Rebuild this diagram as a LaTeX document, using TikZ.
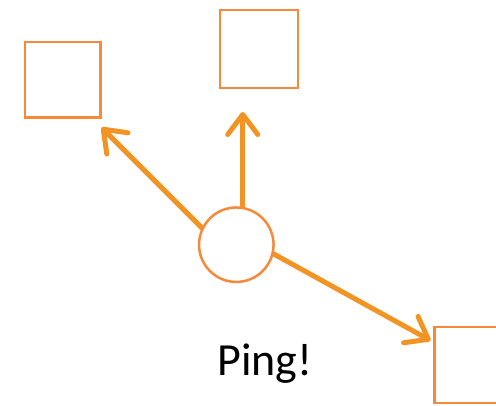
\documentclass[tikz,border=0pt]{standalone}
\usepackage{fontspec}
\setmainfont{Carlito}
\usetikzlibrary{arrows.meta}
\definecolor{boxorange}{HTML}{F68A3A}
\definecolor{arroworange}{HTML}{F29424}
\begin{document}
\begin{tikzpicture}[x=1pt,y=-1pt,
  bx/.style={draw=boxorange,line width=2.5pt,fill=white,minimum width=#1,minimum height=#1,inner sep=0pt,outer sep=0pt},
  ptr/.style={draw=arroworange,line width=5pt,line cap=round,
    -{Straight Barb[length=20pt,width=30pt,round]}}]
\useasboundingbox (0,0) rectangle (496,405);
\begin{scope}
\clip (0,0) rectangle (496,405);
\node[bx=75.5pt] (boxA) at (62.5,79.7) {};
\node[bx=78pt] (boxB) at (259,49) {};
\node[bx=76pt] (boxC) at (472.5,365) {};
\end{scope}
\coordinate (sA) at (210,236);
\coordinate (tA) at (101.5,127.5);
\coordinate (sB) at (242.7,220);
\coordinate (tB) at (242.7,112);
\coordinate (sC) at (262,247.5);
\coordinate (tC) at (430.5,340.5);
\draw[ptr] (sA) -- (tA);
\draw[ptr] (sB) -- (tB);
\draw[ptr] (sC) -- (tC);
\node[draw=boxorange,line width=2.5pt,fill=white,circle,minimum size=74.5pt,inner sep=0pt] (c) at (236.3,244.7) {};
\node[anchor=base,font=\fontsize{46pt}{52pt}\selectfont,inner sep=0pt] (ping) at (264.8,375) {Ping!};
\end{tikzpicture}
\end{document}
